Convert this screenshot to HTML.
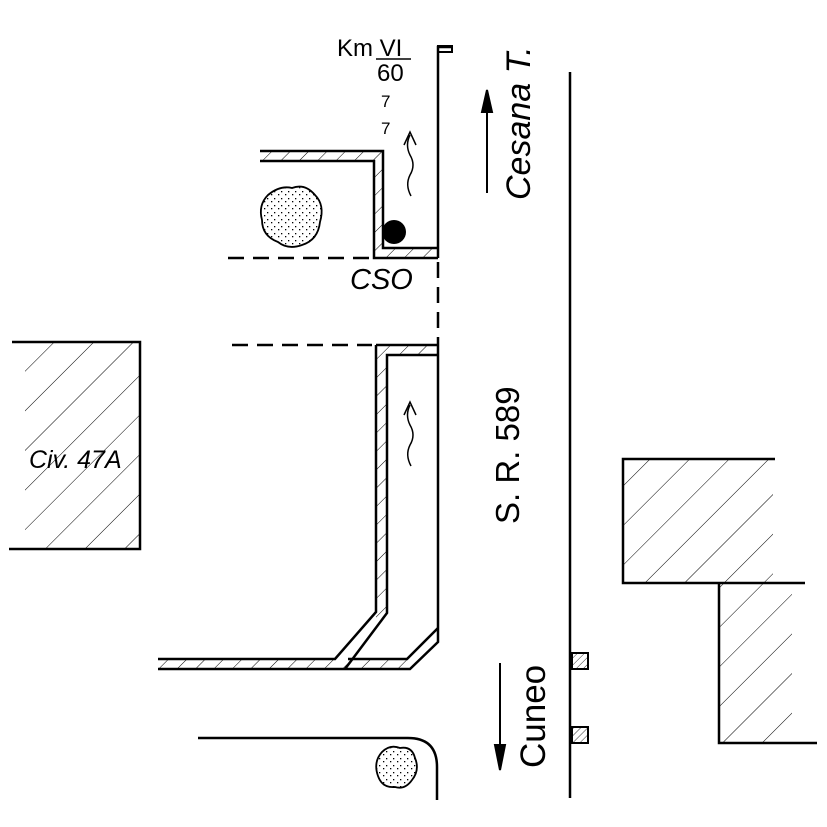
<!DOCTYPE html>
<html><head><style>html,body{margin:0;padding:0;background:#fff}svg{display:block}</style></head>
<body>
<svg width="827" height="827" viewBox="0 0 827 827" xmlns="http://www.w3.org/2000/svg">
<defs>
<pattern id="hb" patternUnits="userSpaceOnUse" width="28" height="28" patternTransform="rotate(45)">
<line x1="0" y1="0" x2="0" y2="28" stroke="#000" stroke-width="1"/></pattern>
<pattern id="hw" patternUnits="userSpaceOnUse" width="13" height="13" patternTransform="rotate(45)">
<line x1="0" y1="0" x2="0" y2="13" stroke="#000" stroke-width="1"/></pattern>
<pattern id="hs" patternUnits="userSpaceOnUse" width="5" height="5" patternTransform="rotate(45)">
<line x1="0" y1="0" x2="0" y2="5" stroke="#000" stroke-width="0.8"/></pattern>
<pattern id="dots" patternUnits="userSpaceOnUse" width="7" height="7">
<rect x="1" y="2" width="1.3" height="1.3" fill="#000"/><rect x="5" y="5" width="1.3" height="1.3" fill="#000"/></pattern>
</defs>
<g fill="none" stroke="#000" stroke-width="2.5">
<rect x="25" y="342" width="115" height="207" fill="url(#hb)" stroke="none"/>
<polyline points="12,342 140,342 140,549 9,549"/>
<rect x="623" y="459" width="150" height="124" fill="url(#hb)" stroke="none"/>
<rect x="719" y="583" width="73" height="160" fill="url(#hb)" stroke="none"/>
<polyline points="775,459 623,459 623,583 805,583"/>
<polyline points="719,583 719,743 817,743"/>
<line x1="570" y1="72" x2="570" y2="798"/>
<rect x="572" y="653" width="16" height="16" fill="url(#hs)" stroke-width="2"/>
<rect x="572" y="727" width="16" height="16" fill="url(#hs)" stroke-width="2"/>
<polyline points="452,47 438,47 438,258"/>
<rect x="438" y="46" width="14" height="6" stroke-width="2"/>
<line x1="438" y1="262" x2="438" y2="345" stroke-dasharray="16,9"/>
<path d="M260,151 H383 V248 H438 V258 H374 V161 H260 Z" fill="url(#hw)" stroke="none"/>
<polyline points="260,151 383,151 383,248 438,248"/>
<polyline points="260,161 374,161 374,258 438,258"/>
<line x1="228" y1="258" x2="372" y2="258" stroke-dasharray="16,9"/>
<circle cx="394" cy="232" r="12" fill="#000" stroke="none"/>
<line x1="232" y1="345" x2="372" y2="345" stroke-dasharray="16,9"/>
<path d="M376,345 H438 V355 H387 V612 L349,659 H158 V669 H340 L376,622 Z" fill="url(#hw)" stroke="none"/>
<path d="M349,659 H407 L438,628 V642 L410,669 H340 Z" fill="url(#hw)" stroke="none"/>
<polyline points="376,345 438,345"/>
<polyline points="158,659 335,659 376,612 376,345"/>
<polyline points="438,355 387,355 387,613 345,669"/>
<polyline points="348,659 407,659 438,628"/>
<polyline points="438,345 438,642 410,669 158,669"/>
<path d="M198,738 H408 Q437,738 437,767 V800"/>
</g>
<path d="M268,195 Q280,185 292,188 Q305,183 315,195 Q325,205 320,222 Q318,240 302,245 Q288,250 278,242 Q262,236 262,220 Q258,205 268,195 Z" fill="url(#dots)" stroke="#000" stroke-width="1.8"/>
<path d="M382,752 Q390,744 400,748 Q412,746 415,758 Q420,770 412,780 Q405,790 395,787 Q382,788 378,776 Q373,762 382,752 Z" fill="url(#dots)" stroke="#000" stroke-width="1.8"/>
<g stroke="#000" stroke-width="2" fill="#000">
<line x1="487" y1="193" x2="487" y2="100"/><polygon points="482,112 492,112 487,90"/>
<line x1="500" y1="663" x2="500" y2="760"/><polygon points="495,745 505,745 500,770"/>
</g>
<g fill="none" stroke="#000" stroke-width="1.5">
<path d="M411,196 Q405,185 410,175 Q416,165 410,155 Q405,145 410,135"/><path d="M404,145 L410,132 L416,145"/>
<path d="M411,466 Q405,455 410,445 Q416,435 410,425 Q405,415 410,405"/><path d="M404,415 L410,402 L416,415"/>
<line x1="376" y1="59" x2="411" y2="59" stroke-width="1.5"/>
</g>
<g font-family="'Liberation Sans', sans-serif" fill="#000">
<text x="337" y="56" font-size="24">Km VI</text>
<text x="377" y="81" font-size="24">60</text>
<text x="381" y="107" font-size="17">7</text>
<text x="381" y="134" font-size="17">7</text>
<text x="350" y="289" font-size="29" font-style="italic">CSO</text>
<text x="29" y="468" font-size="25" font-style="italic">Civ. 47A</text>
<text transform="translate(530,200) rotate(-90)" font-size="34" font-style="italic">Cesana T.</text>
<text transform="translate(519,524) rotate(-90)" font-size="33">S. R. 589</text>
<text transform="translate(545,768) rotate(-90)" font-size="35">Cuneo</text>
</g>
</svg>
</body></html>
